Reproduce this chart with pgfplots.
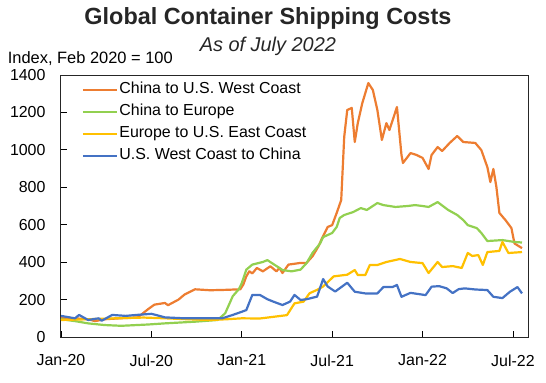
\documentclass[border=0pt]{standalone}
\usepackage{fontspec}
\setmainfont{Liberation Sans}
\usepackage{pgfplots}
\pgfplotsset{compat=1.18}
\definecolor{cOr}{RGB}{237,125,49}
\definecolor{cGr}{RGB}{146,208,80}
\definecolor{cYe}{RGB}{255,192,0}
\definecolor{cBl}{RGB}{68,114,196}
\begin{document}
\begin{tikzpicture}
\begin{axis}[
  scale only axis, width=467bp, height=262bp,
  xmin=0, xmax=31, ymin=0, ymax=1400,
  xtick={0,6,12,18,24,30},
  xticklabels={Jan-20,Jul-20,Jan-21,Jul-21,Jan-22,Jul-22},
  ytick={0,200,...,1400},
  tick pos=left, tick align=inside,
  major tick length=6bp,
  tick style={black, line width=0.8bp},
  axis line style={black!85, line width=1bp},
  ticklabel style={font=\fontsize{16}{18}\selectfont},
  /pgf/number format/assume math mode=true,
  /pgf/number format/1000 sep={},
  yticklabel shift=12bp,
  xticklabel shift=14bp,
  clip=false,
  legend style={at={(rel axis cs:0.0439,0.98)}, anchor=north west, draw=none, fill=none,
    inner sep=0pt, font=\fontsize{16}{18}\selectfont, row sep=3bp, column sep=0pt,
    nodes={inner sep=1.5bp, text height=12bp, text depth=4bp}},
  legend cell align=left,
  legend image code/.code={\draw[#1] (0bp,0bp) -- (34bp,0bp);},
  every axis plot/.append style={line width=2.2bp, line join=round},
]
\path (rel axis cs:-0.1306,-0.1718) rectangle (rel axis cs:1.0385,1.2863);
\node[anchor=base, font=\fontsize{23.5}{26}\selectfont\bfseries, text=black!85, inner sep=0pt] at (rel axis cs:0.443,1.191) {Global Container Shipping Costs};
\node[anchor=base, font=\fontsize{20}{22}\selectfont\itshape, text=black!85, inner sep=0pt] at (rel axis cs:0.443,1.0916) {As of July 2022};
\node[anchor=base west, font=\fontsize{16.5}{18}\selectfont, inner sep=0pt] at (rel axis cs:-0.1143,1.044) {Index, Feb 2020 = 100};

\addplot[cOr] coordinates {
(0,100) (0.93,100) (1.8,95) (2.26,85) (2.9,95) (3.9,100) (5.1,105) (5.8,150) (6.2,173) (6.9,182) (7.1,170) (7.8,200) (8.2,227) (8.9,255) (9.9,250) (10.9,252) (11.9,255)
(12.1,280) (12.3,324) (12.5,351) (12.7,340) (13.0,369) (13.4,351) (13.9,378) (14.3,351) (14.5,369) (14.7,342) (15.1,387) (15.9,396) (16.3,396) (16.7,432) (17.1,486) (17.3,523) (17.7,588) (18.0,598) (18.3,663) (18.6,732)
(18.8,1070) (19.0,1213) (19.3,1224) (19.5,1042) (19.7,1143) (20.0,1250) (20.4,1357) (20.7,1320) (21.0,1213) (21.3,1053) (21.6,1143) (21.8,1106) (22.3,1229) (22.6,973) (22.7,930) (23.2,983) (23.6,973)
(24.0,957) (24.4,898) (24.6,973) (25.0,1015) (25.3,994) (25.8,1037) (26.3,1074) (26.7,1042) (27.5,1037) (27.9,999) (28.3,908) (28.5,828) (28.7,898) (28.9,802) (29.1,663) (29.5,625) (29.9,582) (30.1,500) (30.6,475)
};
\addlegendentry{China to U.S. West Coast}
\addplot[cGr] coordinates {
(0,95) (0.93,85) (1.8,73) (2.9,64) (4.0,60) (5.8,67) (6.9,73) (8.9,82) (10.4,91) (10.9,127) (11.4,218) (11.8,255) (12.0,288) (12.3,360) (12.7,387) (13.4,401) (13.7,411) (14.0,395) (14.5,369) (14.7,358) (15.3,351) (15.9,360) (16.3,395)
(16.7,450) (17.2,500) (17.4,534) (18.0,556) (18.3,588) (18.5,636) (18.8,652) (19.4,668) (19.9,689) (20.3,679) (21.0,716) (21.4,705) (22.2,695) (23.0,700) (23.5,705) (24.0,700) (24.4,695) (25.0,721) (25.7,679) (26.3,652) (26.7,625) (27.0,598) (27.6,582) (27.9,556) (28.3,513) (29.3,518) (30.1,508) (30.6,505)
};
\addlegendentry{China to Europe}
\addplot[cYe] coordinates {
(0,91) (1.8,95) (3.6,100) (5.5,104) (6.9,100) (8.4,95) (9.9,91) (11.0,95) (12.0,100) (13.2,99) (14.1,108) (15.0,117) (15.5,180) (16.1,189) (16.5,234) (17.0,252) (17.4,270) (18.1,324) (19.0,333) (19.5,358) (19.7,331) (20.2,331) (20.5,385) (21.0,385) (21.6,401) (22.5,417) (23.2,401) (24.0,395) (24.4,342) (25.0,401) (25.3,374) (26.0,379) (26.6,369) (27.0,449) (27.3,433) (27.7,438) (28.0,385) (28.3,454) (29.1,460) (29.3,508) (29.7,449) (30.6,454)
};
\addlegendentry{Europe to U.S. East Coast}
\addplot[cBl] coordinates {
(0,113) (0.93,100) (1.2,118) (1.8,91) (2.5,100) (2.7,87) (3.4,118) (4.3,113) (5.0,118) (6.0,124) (6.3,118) (6.9,105) (8.2,100) (10.7,100) (11.4,118) (12.0,135) (12.3,144) (12.7,225) (13.2,225) (13.7,202) (14.1,189) (14.7,171) (15.2,189) (15.5,225) (15.9,198) (16.3,202) (17.0,216) (17.4,310) (17.7,270) (18.2,243) (19.0,290) (19.5,242) (20.2,233) (21.0,233) (21.4,267) (22.0,267) (22.3,278) (22.6,215) (23.2,236) (24.2,224) (24.6,269) (25.1,272) (25.6,260) (26.0,235) (26.4,256) (26.8,260) (27.5,254) (28.3,251) (28.7,215) (29.3,208) (29.8,242) (30.3,267) (30.6,233)
};
\addlegendentry{U.S. West Coast to China}
\end{axis}
\end{tikzpicture}
\end{document}
